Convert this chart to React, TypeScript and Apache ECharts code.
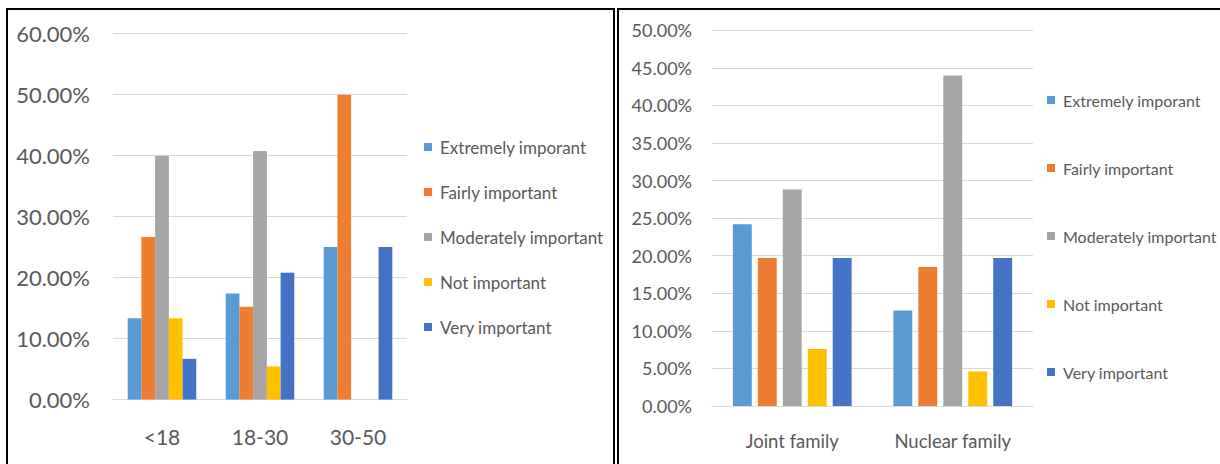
import React, { useEffect, useRef } from "react";
import * as echarts from "echarts";

// Survey: importance rating by age group (left) and by family type (right), in percent
const ratingLevels = [
  "Extremely imporant",
  "Fairly important",
  "Moderately important",
  "Not important",
  "Very important",
];
const levelColors = ["#5B9BD5", "#ED7D31", "#A5A5A5", "#FFC000", "#4472C4"];

const ageGroups = ["<18", "18-30", "30-50"];
const ageExtremely = [13.33, 17.39, 25.0];
const ageFairly = [26.67, 15.22, 50.0];
const ageModerately = [40.0, 40.76, 0];
const ageNot = [13.33, 5.43, 0];
const ageVery = [6.67, 20.8, 25.0];

const familyTypes = ["Joint family", "Nuclear family"];
const famExtremely = [24.2, 12.7];
const famFairly = [19.7, 18.5];
const famModerately = [28.8, 44.0];
const famNot = [7.6, 4.6];
const famVery = [19.7, 19.7];

const ageSeriesData = [ageExtremely, ageFairly, ageModerately, ageNot, ageVery];
const famSeriesData = [famExtremely, famFairly, famModerately, famNot, famVery];

const FONT = "Lato, 'Open Sans', sans-serif";
const TEXT = "#595959";
const GRID_LINE = "#D9D9D9";

const pct = (v: number) => v.toFixed(2) + "%";

export default function App() {
  const ref = useRef<HTMLDivElement>(null);

  useEffect(() => {
    if (!ref.current) return;
    const chart = echarts.init(ref.current, undefined, { renderer: "svg" });

    const leftSeries = ratingLevels.map((name, i) => ({
      name,
      type: "bar",
      xAxisIndex: 0,
      yAxisIndex: 0,
      data: ageSeriesData[i],
      barGap: "0%",
      barCategoryGap: "30%",
      itemStyle: { color: levelColors[i] },
    }));
    const rightSeries = ratingLevels.map((name, i) => ({
      name,
      type: "bar",
      xAxisIndex: 1,
      yAxisIndex: 1,
      data: famSeriesData[i],
      barGap: "32%",
      barCategoryGap: "26%",
      itemStyle: { color: levelColors[i] },
    }));

    const legendBase = {
      orient: "vertical",
      icon: "rect",
      itemWidth: 8,
      itemHeight: 8,
      padding: 0,
      selectedMode: false,
      data: ratingLevels,
    };

    chart.setOption({
      animation: false,
      backgroundColor: "#ffffff",
      textStyle: { fontFamily: FONT },
      grid: [
        { left: 113, right: 813, top: 33.7, bottom: 64.5 },
        { left: 712, right: 187, top: 30.3, bottom: 58 },
      ],
      xAxis: [
        {
          type: "category",
          gridIndex: 0,
          data: ageGroups,
          axisLine: { show: true, lineStyle: { color: GRID_LINE } },
          axisTick: { show: false },
          axisLabel: { color: TEXT, fontSize: 21, margin: 26, fontFamily: FONT },
        },
        {
          type: "category",
          gridIndex: 1,
          data: familyTypes,
          axisLine: { show: true, lineStyle: { color: GRID_LINE } },
          axisTick: { show: false },
          axisLabel: { color: TEXT, fontSize: 18.5, margin: 25, fontFamily: FONT },
        },
      ],
      yAxis: [
        {
          type: "value",
          gridIndex: 0,
          min: 0,
          max: 60,
          interval: 10,
          axisLine: { show: false },
          axisTick: { show: false },
          splitLine: { lineStyle: { color: GRID_LINE } },
          axisLabel: { color: TEXT, fontSize: 22, margin: 23, formatter: pct, fontFamily: FONT },
        },
        {
          type: "value",
          gridIndex: 1,
          min: 0,
          max: 50,
          interval: 5,
          axisLine: { show: false },
          axisTick: { show: false },
          splitLine: { lineStyle: { color: GRID_LINE } },
          axisLabel: { color: TEXT, fontSize: 18, margin: 20, formatter: pct, fontFamily: FONT },
        },
      ],
      legend: [
        {
          ...legendBase,
          left: 424,
          top: 137,
          itemGap: 25,
          textStyle: { color: TEXT, fontSize: 17, lineHeight: 20, fontFamily: FONT, padding: [0, 0, 0, 3] },
        },
        {
          ...legendBase,
          left: 1047,
          top: 90,
          itemGap: 48,
          textStyle: { color: TEXT, fontSize: 16, lineHeight: 20, fontFamily: FONT, padding: [0, 0, 0, 3] },
        },
      ],
      graphic: [
        {
          type: "rect",
          shape: { x: 7, y: 9, width: 607, height: 480 },
          style: { fill: "none", stroke: "#000000", lineWidth: 2 },
          silent: true,
        },
        {
          type: "rect",
          shape: { x: 618, y: 9, width: 700, height: 480 },
          style: { fill: "none", stroke: "#000000", lineWidth: 2 },
          silent: true,
        },
      ],
      series: [...leftSeries, ...rightSeries],
    });

    return () => chart.dispose();
  }, []);

  return (
    <div
      ref={ref}
      style={{ position: "absolute", left: 0, top: 0, width: 1220, height: 464 }}
    />
  );
}
